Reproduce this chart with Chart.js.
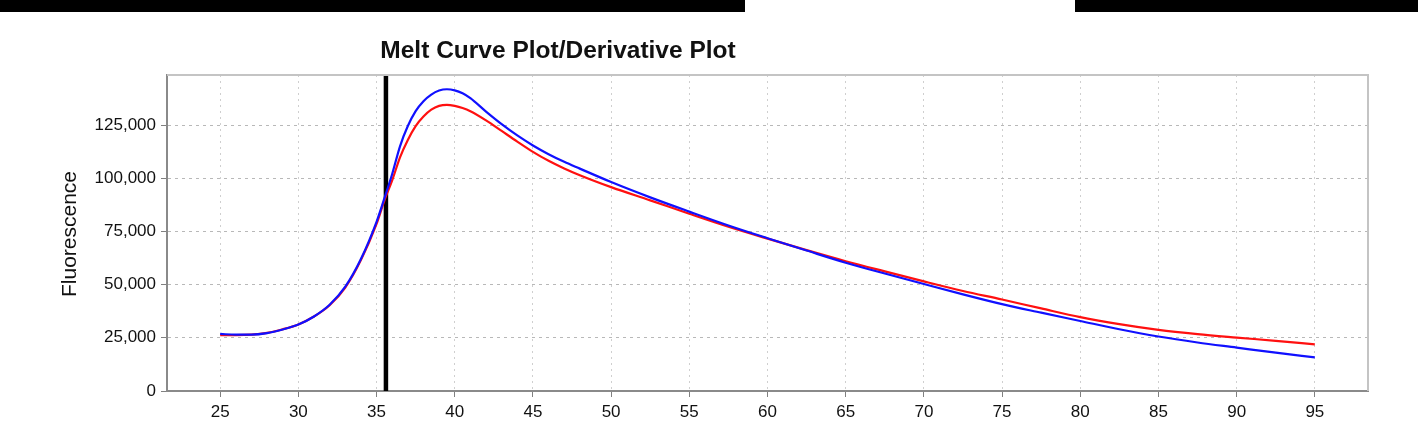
<!DOCTYPE html>
<html>
<head>
<meta charset="utf-8">
<script src="https://cdn.jsdelivr.net/npm/chart.js@4.4.1/dist/chart.umd.min.js"></script>
<style>
    html, body { margin: 0; padding: 0; background: #fff; }
    #wrap { position: relative; width: 1418px; height: 426px; }
    .bar { position: absolute; top: 0; height: 12px; background: #000; }
</style>
</head>
<body>
<div id="wrap">
    <canvas id="grafico-melt" width="1418" height="426"></canvas>
    <div class="bar" style="left:0; width:745px;"></div>
    <div class="bar" style="left:1075px; width:343px;"></div>
</div>
<script>
// Temperatura (°C) e fluorescência
const temperaturas = [25, 26, 27, 28, 29, 30, 31, 32, 33, 34, 35, 35.5, 36, 36.5, 37, 37.5, 38, 38.5, 39, 39.5, 40, 40.5, 41, 42, 43, 44, 45, 46, 47, 48, 50, 52.5, 55, 57.5, 60, 62.5, 65, 67.5, 70, 72.5, 75, 77.5, 80, 82.5, 85, 87.5, 90, 92.5, 95];

const serieAzul = [26800, 26500, 26500, 27200, 28900, 31200, 35000, 40500, 49000, 62000, 79500, 90500, 102000, 115000, 124500, 131500, 136200, 139300, 141200, 141800, 141300, 139900, 137600, 131300, 125400, 120100, 115400, 111300, 107700, 104500, 98200, 91000, 84300, 77800, 71800, 66000, 60300, 55200, 50300, 45400, 40800, 36800, 32900, 29000, 25600, 22800, 20400, 18000, 15800];

const serieVermelha = [26300, 26300, 26500, 27300, 29000, 31300, 35000, 40300, 48600, 61500, 78500, 89500, 99000, 109800, 118000, 124500, 129000, 132200, 134000, 134500, 134000, 133000, 131500, 127200, 122200, 117200, 112400, 108200, 104600, 101400, 95800, 89600, 83300, 77200, 71600, 66200, 61000, 56200, 51500, 47000, 43000, 38800, 34700, 31400, 28700, 26700, 25100, 23600, 21900];

const temperaturaMarcador = 35.6;

const ticksX = [25, 30, 35, 40, 45, 50, 55, 60, 65, 70, 75, 80, 85, 90, 95];
const ticksY = [0, 25000, 50000, 75000, 100000, 125000];
const limitesX = [21.6, 98.4];
const limitesY = [0, 148500];

const titulo = 'Melt Curve Plot/Derivative Plot';
const tituloEixoY = 'Fluorescence';

const FONTE = 'Arial, "Liberation Sans", sans-serif';

function pontos(valores) {
    return temperaturas.map((t, i) => ({ x: t, y: valores[i] }));
}

// moldura, título e rótulo do eixo Y
const extras = {
    id: 'extras',
    afterDraw(chart) {
        const { ctx, chartArea } = chart;
        ctx.save();
        ctx.strokeStyle = '#c4c4c4';
        ctx.lineWidth = 2;
        ctx.beginPath();
        ctx.moveTo(chartArea.left, chartArea.top);
        ctx.lineTo(chartArea.right, chartArea.top);
        ctx.lineTo(chartArea.right, chartArea.bottom);
        ctx.stroke();

        ctx.fillStyle = '#111';
        ctx.font = 'bold 24.5px ' + FONTE;
        ctx.textAlign = 'center';
        ctx.textBaseline = 'middle';
        ctx.fillText(titulo, 558, 51);

        ctx.font = '21px ' + FONTE;
        ctx.translate(70, 234);
        ctx.rotate(-Math.PI / 2);
        ctx.fillText(tituloEixoY, 0, 0);
        ctx.restore();
    }
};

const ctx = document.getElementById('grafico-melt').getContext('2d');
new Chart(ctx, {
    type: 'line',
    data: {
        datasets: [
            {
                label: 'Azul',
                data: pontos(serieAzul),
                borderColor: '#1010ff',
                borderWidth: 2.2,
                pointRadius: 0,
                cubicInterpolationMode: 'monotone'
            },
            {
                label: 'Vermelha',
                data: pontos(serieVermelha),
                borderColor: '#ff1010',
                borderWidth: 2.2,
                pointRadius: 0,
                cubicInterpolationMode: 'monotone'
            },
            {
                label: 'Marcador',
                data: [{ x: temperaturaMarcador, y: limitesY[0] }, { x: temperaturaMarcador, y: limitesY[1] }],
                borderColor: '#000',
                borderWidth: 4.5,
                pointRadius: 0
            }
        ]
    },
    options: {
        responsive: false,
        animation: false,
        layout: { padding: { left: 0, top: 75, right: 50, bottom: 0 } },
        plugins: {
            legend: { display: false },
            tooltip: { enabled: false },
            title: { display: false }
        },
        scales: {
            x: {
                type: 'linear',
                min: limitesX[0],
                max: limitesX[1],
                afterBuildTicks: scale => { scale.ticks = ticksX.map(v => ({ value: v })); },
                afterFit: scale => { scale.height = 35; },
                grid: { color: '#cfcfcf', tickColor: '#808080', tickLength: 6, lineWidth: 1 },
                border: { color: '#8a8a8a', width: 2, dash: [2, 4] },
                ticks: { color: '#111', font: { size: 17, family: FONTE }, padding: 5, maxRotation: 0 }
            },
            y: {
                min: limitesY[0],
                max: limitesY[1],
                afterBuildTicks: scale => { scale.ticks = ticksY.map(v => ({ value: v })); },
                afterFit: scale => { scale.width = 167; },
                grid: { color: '#b8b8b8', tickColor: '#808080', tickLength: 6, lineWidth: 1 },
                border: { color: '#8a8a8a', width: 2, dash: [3, 4] },
                ticks: {
                    color: '#111',
                    font: { size: 17, family: FONTE },
                    padding: 5,
                    callback: v => v.toLocaleString('en-US')
                }
            }
        }
    },
    plugins: [extras]
});
</script>
</body>
</html>
